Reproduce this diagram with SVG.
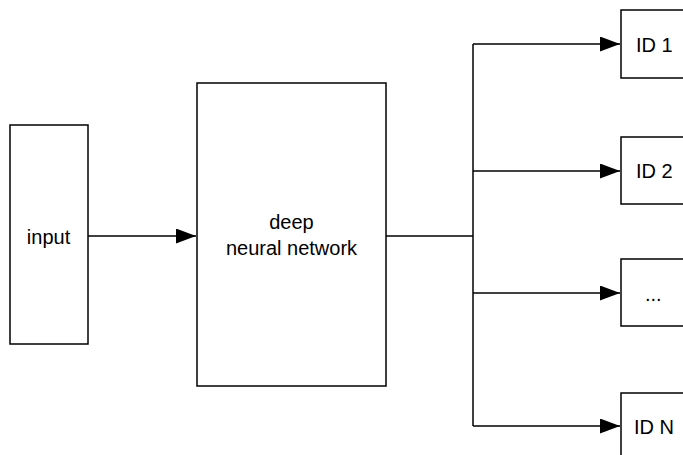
<svg xmlns="http://www.w3.org/2000/svg" width="683" height="455" viewBox="0 0 683 455">
  <defs>
    <marker id="arrow" markerWidth="20" markerHeight="15" refX="20" refY="7.5" orient="auto" markerUnits="userSpaceOnUse">
      <path d="M0,0 L20,7.5 L0,15 Z" fill="#000"/>
    </marker>
  </defs>
  <style>
    .box { fill: #fff; stroke: #000; stroke-width: 1.5; }
    .lbl { font-family: "Liberation Sans", Arial, Helvetica, sans-serif; font-size: 20px; fill: #000; }
    .conn { fill: none; stroke: #000; stroke-width: 1.5; }
  </style>
  <rect width="683" height="455" fill="#fff"/>
  <g id="input">
    <rect class="box" x="10" y="125" width="78" height="219"/>
    <text class="lbl" x="48.5" y="244" text-anchor="middle">input</text>
  </g>
  <g id="dnn">
    <rect class="box" x="197" y="83" width="189" height="303"/>
    <text class="lbl" x="291.5" y="229" text-anchor="middle">deep</text>
    <text class="lbl" x="291.5" y="255" text-anchor="middle">neural network</text>
  </g>
  <g id="id1">
    <rect class="box" x="621" y="10" width="70" height="68"/>
    <text class="lbl" x="636" y="52">ID 1</text>
  </g>
  <g id="id2">
    <rect class="box" x="621" y="137" width="70" height="67"/>
    <text class="lbl" x="636" y="178">ID 2</text>
  </g>
  <g id="idmore">
    <rect class="box" x="621" y="259" width="70" height="67"/>
    <text class="lbl" x="645" y="301">...</text>
  </g>
  <g id="idn">
    <rect class="box" x="621" y="393" width="70" height="70"/>
    <text class="lbl" x="634" y="434">ID N</text>
  </g>
  <g id="connectors">
    <line class="conn" x1="88" y1="236" x2="196" y2="236" marker-end="url(#arrow)"/>
    <polyline class="conn" points="386,236 473,236"/>
    <line class="conn" x1="473" y1="44" x2="473" y2="426"/>
    <line class="conn" x1="473" y1="44" x2="620" y2="44" marker-end="url(#arrow)"/>
    <line class="conn" x1="473" y1="171" x2="620" y2="171" marker-end="url(#arrow)"/>
    <line class="conn" x1="473" y1="293" x2="620" y2="293" marker-end="url(#arrow)"/>
    <line class="conn" x1="473" y1="426" x2="620" y2="426" marker-end="url(#arrow)"/>
  </g>
</svg>
